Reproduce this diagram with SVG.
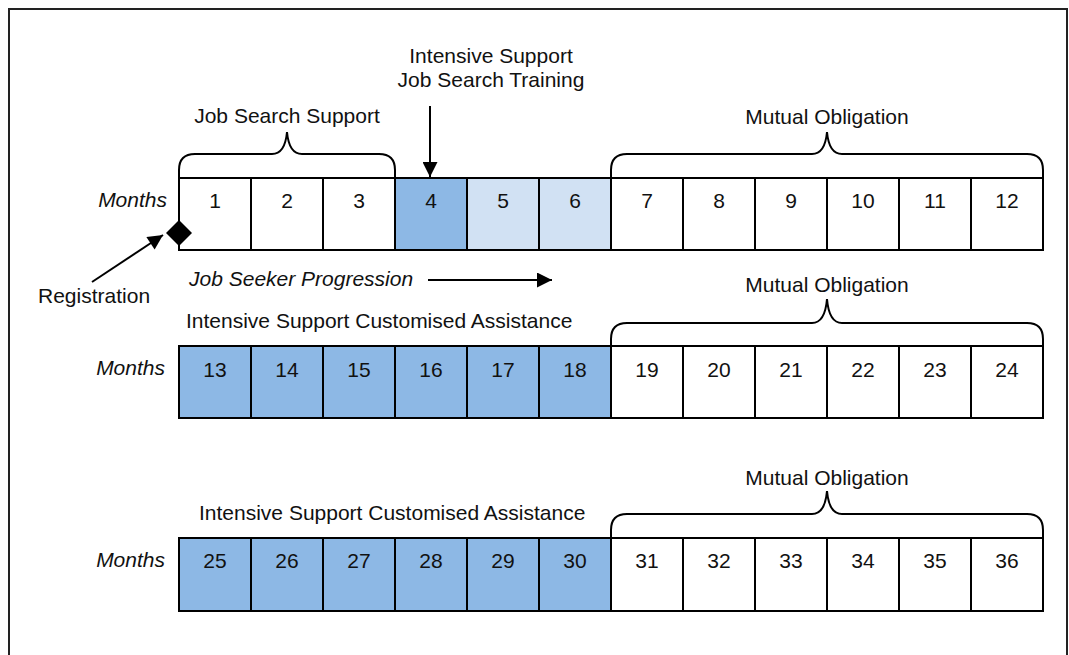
<svg xmlns="http://www.w3.org/2000/svg" width="1069" height="655" viewBox="0 0 1069 655">
<style>
text{font-family:"Liberation Sans",Arial,sans-serif;font-size:21px;fill:#111}
.c{text-anchor:middle}
.it{font-style:italic}
.m{text-anchor:end;font-style:italic}
.cell{stroke:#000;stroke-width:2;fill:#fff}
.dk{fill:#8DB8E5}
.lt{fill:#D1E1F3}
.br{fill:none;stroke:#000;stroke-width:2}
.ln{fill:none;stroke:#000;stroke-width:2}
</style>
<defs>
<marker id="ah" viewBox="0 0 10 10" refX="10" refY="5" markerWidth="8" markerHeight="7.5" markerUnits="strokeWidth" orient="auto">
<path d="M0,0 L10,5 L0,10 Z" fill="#000"/>
</marker>
</defs>
<rect width="1069" height="655" fill="#fff"/>
<rect x="9" y="9" width="1058" height="700" fill="none" stroke="#222" stroke-width="2"/>

<g id="row1">
<rect class="cell" x="179" y="178" width="72" height="72"/>
<rect class="cell" x="251" y="178" width="72" height="72"/>
<rect class="cell" x="323" y="178" width="72" height="72"/>
<rect class="cell dk" x="395" y="178" width="72" height="72"/>
<rect class="cell lt" x="467" y="178" width="72" height="72"/>
<rect class="cell lt" x="539" y="178" width="72" height="72"/>
<rect class="cell" x="611" y="178" width="72" height="72"/>
<rect class="cell" x="683" y="178" width="72" height="72"/>
<rect class="cell" x="755" y="178" width="72" height="72"/>
<rect class="cell" x="827" y="178" width="72" height="72"/>
<rect class="cell" x="899" y="178" width="72" height="72"/>
<rect class="cell" x="971" y="178" width="72" height="72"/>
<text class="c" x="215" y="208">1</text>
<text class="c" x="287" y="208">2</text>
<text class="c" x="359" y="208">3</text>
<text class="c" x="431" y="208">4</text>
<text class="c" x="503" y="208">5</text>
<text class="c" x="575" y="208">6</text>
<text class="c" x="647" y="208">7</text>
<text class="c" x="719" y="208">8</text>
<text class="c" x="791" y="208">9</text>
<text class="c" x="863" y="208">10</text>
<text class="c" x="935" y="208">11</text>
<text class="c" x="1007" y="208">12</text>
<text class="m" x="167" y="207">Months</text>
</g>

<g id="row2">
<rect class="cell dk" x="179" y="346" width="72" height="72"/>
<rect class="cell dk" x="251" y="346" width="72" height="72"/>
<rect class="cell dk" x="323" y="346" width="72" height="72"/>
<rect class="cell dk" x="395" y="346" width="72" height="72"/>
<rect class="cell dk" x="467" y="346" width="72" height="72"/>
<rect class="cell dk" x="539" y="346" width="72" height="72"/>
<rect class="cell" x="611" y="346" width="72" height="72"/>
<rect class="cell" x="683" y="346" width="72" height="72"/>
<rect class="cell" x="755" y="346" width="72" height="72"/>
<rect class="cell" x="827" y="346" width="72" height="72"/>
<rect class="cell" x="899" y="346" width="72" height="72"/>
<rect class="cell" x="971" y="346" width="72" height="72"/>
<text class="c" x="215" y="377">13</text>
<text class="c" x="287" y="377">14</text>
<text class="c" x="359" y="377">15</text>
<text class="c" x="431" y="377">16</text>
<text class="c" x="503" y="377">17</text>
<text class="c" x="575" y="377">18</text>
<text class="c" x="647" y="377">19</text>
<text class="c" x="719" y="377">20</text>
<text class="c" x="791" y="377">21</text>
<text class="c" x="863" y="377">22</text>
<text class="c" x="935" y="377">23</text>
<text class="c" x="1007" y="377">24</text>
<text class="m" x="165" y="375">Months</text>
</g>

<g id="row3">
<rect class="cell dk" x="179" y="538" width="72" height="73"/>
<rect class="cell dk" x="251" y="538" width="72" height="73"/>
<rect class="cell dk" x="323" y="538" width="72" height="73"/>
<rect class="cell dk" x="395" y="538" width="72" height="73"/>
<rect class="cell dk" x="467" y="538" width="72" height="73"/>
<rect class="cell dk" x="539" y="538" width="72" height="73"/>
<rect class="cell" x="611" y="538" width="72" height="73"/>
<rect class="cell" x="683" y="538" width="72" height="73"/>
<rect class="cell" x="755" y="538" width="72" height="73"/>
<rect class="cell" x="827" y="538" width="72" height="73"/>
<rect class="cell" x="899" y="538" width="72" height="73"/>
<rect class="cell" x="971" y="538" width="72" height="73"/>
<text class="c" x="215" y="568">25</text>
<text class="c" x="287" y="568">26</text>
<text class="c" x="359" y="568">27</text>
<text class="c" x="431" y="568">28</text>
<text class="c" x="503" y="568">29</text>
<text class="c" x="575" y="568">30</text>
<text class="c" x="647" y="568">31</text>
<text class="c" x="719" y="568">32</text>
<text class="c" x="791" y="568">33</text>
<text class="c" x="863" y="568">34</text>
<text class="c" x="935" y="568">35</text>
<text class="c" x="1007" y="568">36</text>
<text class="m" x="165" y="567">Months</text>
</g>

<g id="brace-jss">
<path class="br" d="M179,178 V170 Q179,154 195,154 H272 Q285,154 287,132 Q289,154 302,154 H379 Q395,154 395,170 V178"/>
<text class="c" x="287" y="123">Job Search Support</text>
</g>
<g id="brace-mo1">
<path class="br" d="M611,178 V170 Q611,154 627,154 H812 Q825,154 827,132 Q829,154 842,154 H1027 Q1043,154 1043,170 V178"/>
<text class="c" x="827" y="124">Mutual Obligation</text>
</g>
<g id="brace-mo2">
<path class="br" d="M611,346 V339 Q611,323 627,323 H812 Q825,323 827,299 Q829,323 842,323 H1027 Q1043,323 1043,339 V346"/>
<text class="c" x="827" y="292">Mutual Obligation</text>
</g>
<g id="brace-mo3">
<path class="br" d="M611,538 V530 Q611,514 627,514 H812 Q825,514 827,491 Q829,514 842,514 H1027 Q1043,514 1043,530 V538"/>
<text class="c" x="827" y="485">Mutual Obligation</text>
</g>

<g id="label-isjst">
<text class="c" x="491" y="63">Intensive Support</text>
<text class="c" x="491" y="87">Job Search Training</text>
</g>
<g id="label-isca2"><text x="186" y="328">Intensive Support Customised Assistance</text></g>
<g id="label-isca3"><text x="199" y="520">Intensive Support Customised Assistance</text></g>
<g id="label-prog"><text class="it" x="189" y="286">Job Seeker Progression</text></g>
<g id="label-reg"><text x="38" y="303">Registration</text></g>
<g id="registration-marker"><path d="M179,220 L192,233 L179,246 L166,233 Z" fill="#000"/></g>

<g id="connectors">
<line class="ln" x1="430" y1="106" x2="430" y2="177" marker-end="url(#ah)"/>
<line class="ln" x1="428" y1="280" x2="552" y2="280" marker-end="url(#ah)"/>
<line class="ln" x1="92" y1="282" x2="163" y2="235" marker-end="url(#ah)"/>
</g>
</svg>
